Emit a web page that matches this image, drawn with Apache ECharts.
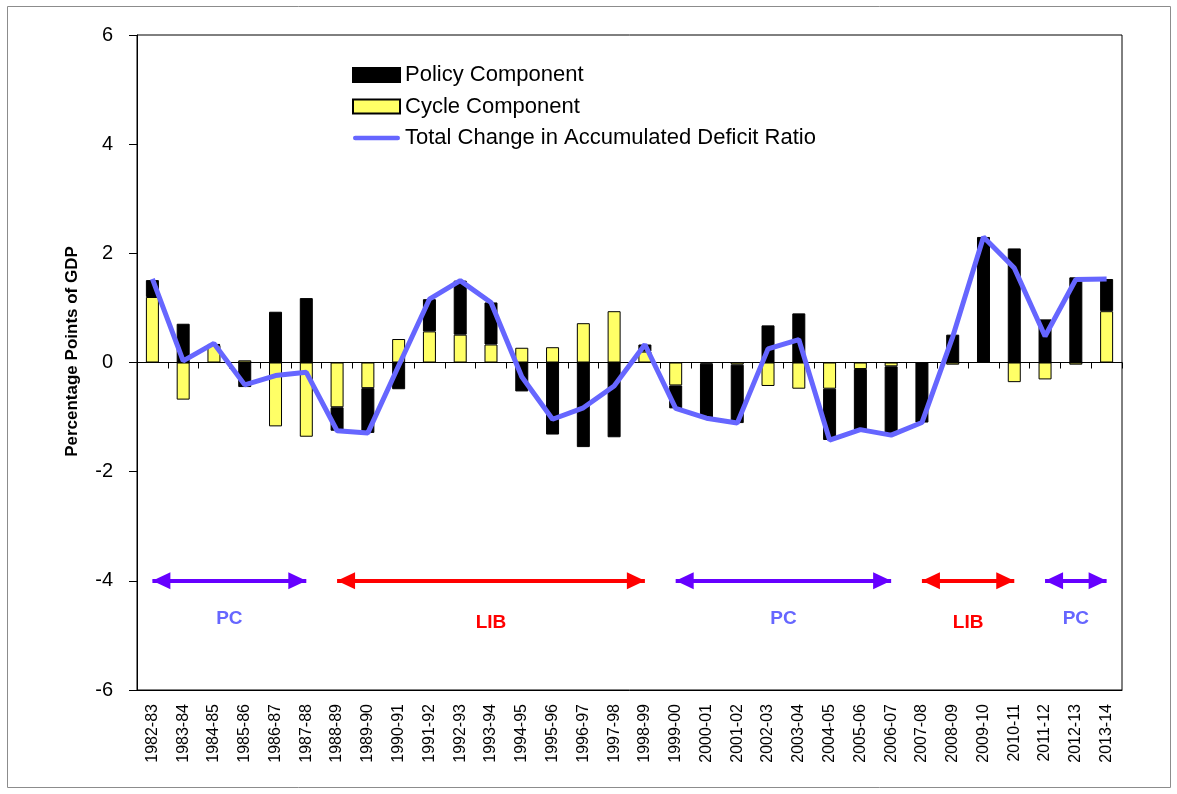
<!DOCTYPE html>
<html>
<head>
<meta charset="utf-8">
<title>Policy and Cycle Components</title>
<script src="https://cdn.jsdelivr.net/npm/echarts@6/dist/echarts.min.js"></script>
<style>
  html, body { margin: 0; padding: 0; background: #fff; }
  #chart { width: 1177px; height: 794px; }
</style>
</head>
<body>
<div id="chart"></div>
<script>
const years = ['1982-83', '1983-84', '1984-85', '1985-86', '1986-87', '1987-88', '1988-89', '1989-90',
  '1990-91', '1991-92', '1992-93', '1993-94', '1994-95', '1995-96', '1996-97', '1997-98', '1998-99',
  '1999-00', '2000-01', '2001-02', '2002-03', '2003-04', '2004-05', '2005-06', '2006-07', '2007-08',
  '2008-09', '2009-10', '2010-11', '2011-12', '2012-13', '2013-14'];

const cycle = [1.20, -0.68, 0.32, 0.04, -1.17, -1.36, -0.82, -0.47, 0.43, 0.57, 0.51, 0.33, 0.27, 0.28,
  0.72, 0.94, 0.20, -0.42, -0.02, -0.04, -0.43, -0.48, -0.48, -0.12, -0.07, 0.00, -0.04, 0.00, -0.36,
  -0.31, -0.04, 0.94];

const policy = [0.31, 0.71, 0.02, -0.45, 0.93, 1.18, -0.43, -0.82, -0.49, 0.59, 0.99, 0.77, -0.53, -1.32,
  -1.55, -1.37, 0.13, -0.42, -1.00, -1.07, 0.68, 0.90, -0.94, -1.11, -1.26, -1.10, 0.51, 2.30, 2.09,
  0.79, 1.56, 0.59];

const total = [1.53, 0.03, 0.35, -0.41, -0.24, -0.18, -1.25, -1.29, -0.06, 1.16, 1.50, 1.10, -0.26, -1.04,
  -0.83, -0.43, 0.33, -0.84, -1.02, -1.11, 0.25, 0.42, -1.42, -1.23, -1.33, -1.10, 0.47, 2.30, 1.73,
  0.48, 1.52, 1.53];

// government periods drawn as arrows at y = -4
const periodLabels = ['PC', 'LIB', 'PC', 'LIB', 'PC'];
const periodStart = ['1982-83', '1988-89', '1999-00', '2007-08', '2011-12'];
const periodEnd = ['1987-88', '1998-99', '2006-07', '2010-11', '2013-14'];
const arrowLevel = -4;

const names = ['Policy Component', 'Cycle Component', 'Total Change in Accumulated Deficit Ratio'];

const font = 'Liberation Sans, Arial, sans-serif';

// arrow head whose tip sits in the middle of its box, so it ends right on the category
const arrowHead = 'path://M5 -10L5 -10M5 0L10 10L0 10Z';

function periodLines() {
  return periodLabels.map((lab, i) => {
    const isPC = lab === 'PC';
    return [
      {
        coord: [periodStart[i], arrowLevel],
        lineStyle: { color: isPC ? '#6600ff' : '#ff0000', width: 4, type: 'solid' },
        label: {
          show: true,
          formatter: lab,
          position: 'insideMiddleBottom',
          distance: isPC ? 28 : 32,
          color: isPC ? '#6666ff' : '#ff0000',
          fontFamily: font,
          fontWeight: 'bold',
          fontSize: 19,
        },
      },
      { coord: [periodEnd[i], arrowLevel] },
    ];
  });
}

const chart = echarts.init(document.getElementById('chart'));

const option = {
  animation: false,
  textStyle: { fontFamily: font },
  graphic: [
    {
      type: 'rect',
      shape: { x: 7.5, y: 6.5, width: 1163, height: 781 },
      style: { fill: 'none', stroke: '#8c8c8c', lineWidth: 1 },
      silent: true,
    },
  ],
  legend: {
    data: [
      { name: names[0], icon: 'rect' },
      { name: names[1], icon: 'rect' },
      { name: names[2], icon: 'path://M2 0L45 0A2.25 2.25 0 0 1 45 4.5L2 4.5A2.25 2.25 0 0 1 2 0Z' },
    ],
    orient: 'vertical',
    left: 352,
    top: 64,
    padding: 0,
    itemWidth: 47,
    itemHeight: 14,
    itemGap: 9.5,
    textStyle: { fontFamily: font, fontSize: 22, color: '#000' },
  },
  grid: {
    left: 137,
    right: 55,
    top: 35,
    bottom: 104,
    show: true,
    borderColor: '#000',
    borderWidth: 1,
  },
  xAxis: [
    {
      // bottom axis carrying the year labels
      type: 'category',
      data: years,
      position: 'bottom',
      axisLine: { onZero: false, lineStyle: { color: '#000', width: 1 } },
      axisTick: { show: false },
      axisLabel: {
        rotate: 90,
        interval: 0,
        margin: 14,
        color: '#000',
        fontSize: 16,
        fontFamily: font,
      },
      splitLine: { show: false },
    },
    {
      // zero line with tick marks between categories
      type: 'category',
      data: years,
      position: 'bottom',
      axisLine: { onZero: true, lineStyle: { color: '#000', width: 1 } },
      axisTick: { show: true, interval: 0, length: 6, lineStyle: { color: '#000' } },
      axisLabel: { show: false },
      splitLine: { show: false },
    },
  ],
  yAxis: {
    type: 'value',
    min: -6,
    max: 6,
    interval: 2,
    name: 'Percentage Points of GDP',
    nameLocation: 'middle',
    nameRotate: 90,
    nameGap: 56,
    nameTextStyle: {
      fontFamily: font,
      fontWeight: 'bold',
      fontSize: 17,
      color: '#000',
      padding: [0, 0, 0, 22],
    },
    axisLine: { show: true, lineStyle: { color: '#000', width: 1 } },
    axisTick: { show: true, length: 8, lineStyle: { color: '#000' } },
    axisLabel: { margin: 24, color: '#000', fontSize: 20, fontFamily: font },
    splitLine: { show: false },
  },
  series: [
    {
      // cycle sits at the bottom of the stack
      name: names[1],
      type: 'bar',
      stack: 'deficit',
      data: cycle,
      barWidth: 13,
      itemStyle: { color: '#ffff66', borderColor: '#000', borderWidth: 1 },
    },
    {
      name: names[0],
      type: 'bar',
      stack: 'deficit',
      data: policy,
      barWidth: 13,
      itemStyle: { color: '#000', borderColor: '#000', borderWidth: 1 },
    },
    {
      name: names[2],
      type: 'line',
      data: total,
      symbol: 'none',
      lineStyle: { color: '#6666ff', width: 5 },
      itemStyle: { color: '#6666ff' },
      z: 5,
      markLine: {
        silent: true,
        symbol: [arrowHead, arrowHead],
        symbolSize: [17, 36],
        data: periodLines(),
      },
    },
  ],
};

chart.setOption(option);
</script>
</body>
</html>
